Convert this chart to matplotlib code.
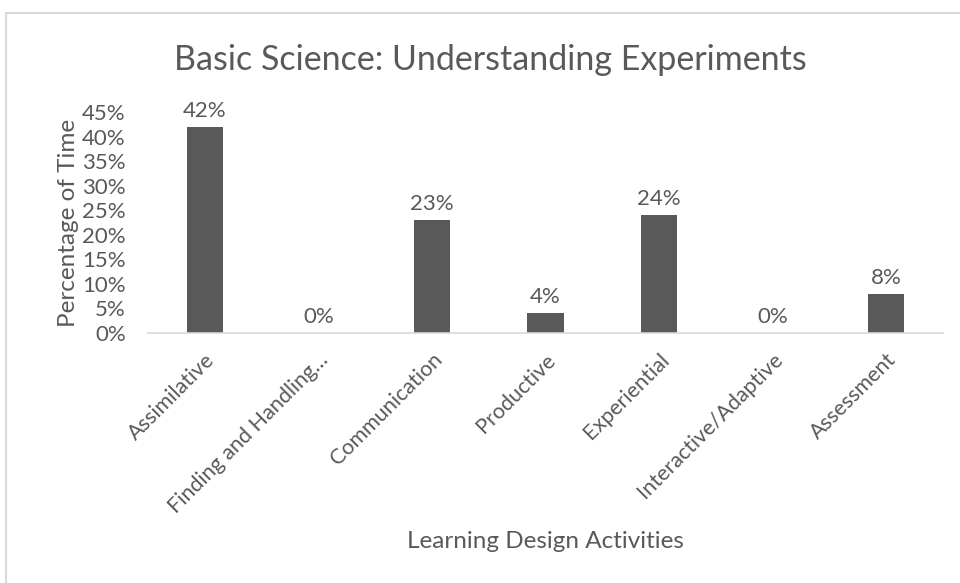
import matplotlib.pyplot as plt
from matplotlib.ticker import PercentFormatter
from matplotlib.patches import Rectangle

categories = ['Assimilative', 'Finding and Handling\u2026', 'Communication', 'Productive',
              'Experiential', 'Interactive/Adaptive', 'Assessment']
percent_time = [42, 0, 23, 4, 24, 0, 8]
y_ticks = [0, 5, 10, 15, 20, 25, 30, 35, 40, 45]

TEXT = '#595959'
BAR = '#595959'
GRID = '#d9d9d9'

plt.rcParams['font.family'] = ['Lato', 'DejaVu Sans']

fig = plt.figure(figsize=(9.6, 5.83), dpi=100)
# outer chart border (top and left visible)
fig.add_artist(Rectangle((6 / 960, -0.1), 1.2, 1 - 13 / 583 + 0.1, transform=fig.transFigure,
                         fill=False, edgecolor=GRID, linewidth=1.5))

ax = fig.add_axes([148 / 960, 1 - 333 / 583, (943 - 148) / 960, (333 - 112) / 583])

x = range(len(categories))
bars = ax.bar(x, percent_time, width=0.32, color=BAR)
for xi, v in zip(x, percent_time):
    ax.text(xi, v + 1.2, f'{v}%', ha='center', va='bottom', fontsize=16, color=TEXT)

ax.set_xlim(-0.5, len(categories) - 0.5)
ax.set_ylim(0, 45)
ax.set_yticks(y_ticks)
ax.yaxis.set_major_formatter(PercentFormatter(decimals=0))
ax.set_xticks(list(x))
ax.set_xticklabels(categories, rotation=45, ha='right', rotation_mode='anchor')

for s in ['top', 'right', 'left']:
    ax.spines[s].set_visible(False)
ax.spines['bottom'].set_color(GRID)
ax.spines['bottom'].set_linewidth(1.2)
ax.tick_params(axis='both', length=0, colors=TEXT)
ax.tick_params(axis='x', pad=12, labelsize=15.5)
ax.tick_params(axis='y', pad=16, labelsize=16)

ax.set_ylabel('Percentage of Time', fontsize=17.5, color=TEXT, labelpad=2)
fig.text(545 / 960, 1 - 542 / 583, 'Learning Design Activities', ha='center', va='center',
         fontsize=17.5, color=TEXT)
fig.text(490 / 960, 1 - 60 / 583, 'Basic Science: Understanding Experiments', ha='center',
         va='center', fontsize=24.5, color=TEXT)

fig.savefig('out.png', dpi=100)
